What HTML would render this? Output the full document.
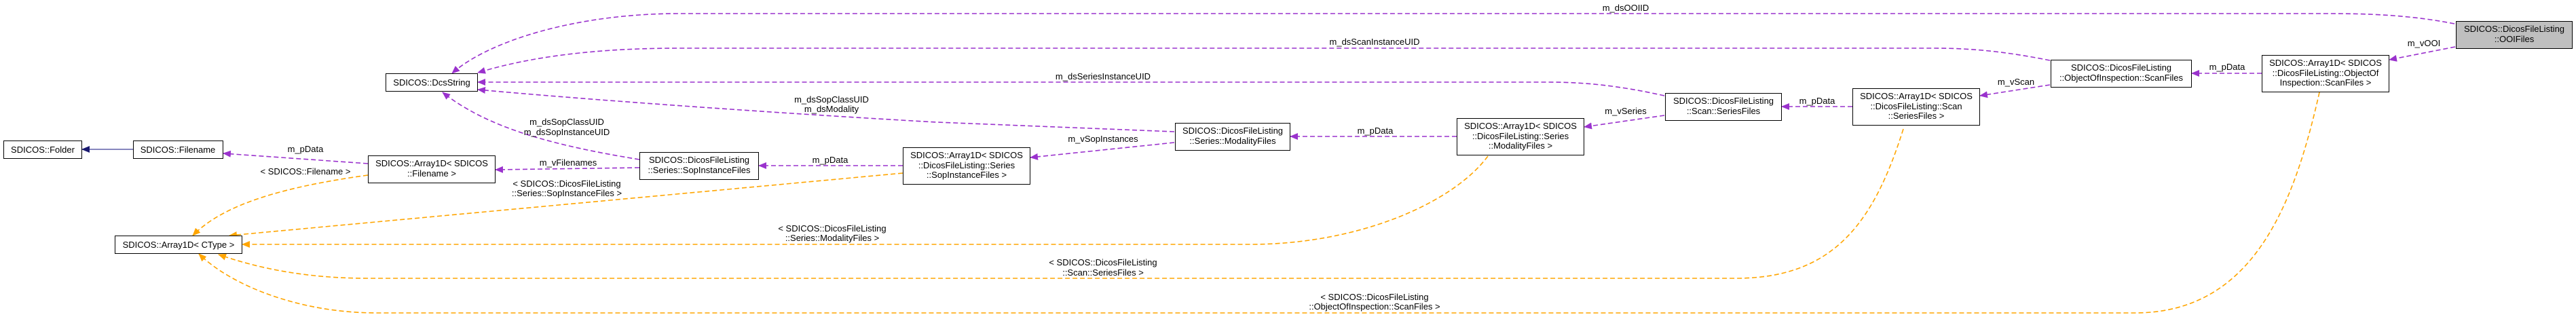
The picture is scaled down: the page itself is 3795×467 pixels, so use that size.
<!DOCTYPE html>
<html><head><meta charset="utf-8">
<style>
html,body{margin:0;padding:0;background:#fff;}
svg{display:block;}
text{font-family:"Liberation Sans",Arial,sans-serif;font-size:13px;fill:#000;}
.b{fill:#fff;stroke:#000;stroke-width:1;}
.p{fill:none;stroke:#9a32cd;stroke-width:1.6;stroke-dasharray:7,4;}
.o{fill:none;stroke:#ffa500;stroke-width:1.6;stroke-dasharray:7,4;}
</style></head>
<body>
<svg width="3795" height="467" viewBox="0 0 3795 467" xmlns="http://www.w3.org/2000/svg">
<defs>
<marker id="ap" markerWidth="12" markerHeight="10" refX="11" refY="5" orient="auto" markerUnits="userSpaceOnUse"><path d="M0,0 L12,5 L0,10 z" fill="#9a32cd"/></marker>
<marker id="ao" markerWidth="12" markerHeight="10" refX="11" refY="5" orient="auto" markerUnits="userSpaceOnUse"><path d="M0,0 L12,5 L0,10 z" fill="#ffa500"/></marker>
<marker id="an" markerWidth="12" markerHeight="10" refX="11" refY="5" orient="auto" markerUnits="userSpaceOnUse"><path d="M0,0 L12,5 L0,10 z" fill="#191970"/></marker>
</defs>

<!-- edges -->
<path class="p" marker-end="url(#ap)" d="M3616,35 C3540,20 3470,20 3420,20 L1000,20 C850,20 720,60 666,108"/>
<text x="2395" y="16" text-anchor="middle">m_dsOOIID</text>

<path class="p" marker-end="url(#ap)" d="M3020,89 C2950,75 2900,71 2850,71 L1000,71 C850,71 760,90 704,107"/>
<text x="2025" y="66" text-anchor="middle">m_dsScanInstanceUID</text>

<path class="p" marker-end="url(#ap)" d="M2452,141 C2380,125 2330,121 2280,121 L704,121"/>
<text x="1625" y="117" text-anchor="middle">m_dsSeriesInstanceUID</text>

<path class="p" marker-end="url(#ap)" d="M1730,194 L1380,180 C1200,170 900,150 704,132"/>
<text x="1225" y="151" text-anchor="middle">m_dsSopClassUID</text>
<text x="1225" y="165" text-anchor="middle">m_dsModality</text>

<path class="p" marker-end="url(#ap)" d="M942,235 C820,215 720,190 652,136"/>
<text x="835" y="184" text-anchor="middle">m_dsSopClassUID</text>
<text x="835" y="199" text-anchor="middle">m_dsSopInstanceUID</text>

<path fill="none" stroke="#5e5ea8" stroke-width="1.6" marker-end="url(#an)" d="M196,220 L121,220"/>

<path class="p" marker-end="url(#ap)" d="M542,241 L329,226"/>
<text x="450" y="224" text-anchor="middle">m_pData</text>

<path class="o" marker-end="url(#ao)" d="M542,258 C420,275 330,300 284,347"/>
<text x="450" y="257" text-anchor="middle">&lt; SDICOS::Filename &gt;</text>

<path class="p" marker-end="url(#ap)" d="M942,247 L730,250"/>
<text x="837" y="244" text-anchor="middle">m_vFilenames</text>

<path class="p" marker-end="url(#ap)" d="M1330,244 L1118,244"/>
<text x="1223" y="240" text-anchor="middle">m_pData</text>

<path class="o" marker-end="url(#ao)" d="M1330,255 L338,347"/>
<text x="835" y="275" text-anchor="middle">&lt; SDICOS::DicosFileListing</text>
<text x="835" y="289" text-anchor="middle">::Series::SopInstanceFiles &gt;</text>

<path class="p" marker-end="url(#ap)" d="M1730,210 L1518,232"/>
<text x="1625" y="209" text-anchor="middle">m_vSopInstances</text>

<path class="p" marker-end="url(#ap)" d="M2146,201 L1901,201"/>
<text x="2026" y="197" text-anchor="middle">m_pData</text>

<path class="o" marker-end="url(#ao)" d="M2192,230 C2140,300 2000,360 1842,360 L357,360"/>
<text x="1226" y="341" text-anchor="middle">&lt; SDICOS::DicosFileListing</text>
<text x="1226" y="355" text-anchor="middle">::Series::ModalityFiles &gt;</text>

<path class="p" marker-end="url(#ap)" d="M2452,170 L2334,187"/>
<text x="2395" y="168" text-anchor="middle">m_vSeries</text>

<path class="p" marker-end="url(#ap)" d="M2729,157 L2625,157"/>
<text x="2677" y="153" text-anchor="middle">m_pData</text>

<path class="o" marker-end="url(#ao)" d="M2804,190 C2760,330 2700,410 2557,410 L542,410 C450,410 380,395 322,375"/>
<text x="1625" y="391" text-anchor="middle">&lt; SDICOS::DicosFileListing</text>
<text x="1625" y="406" text-anchor="middle">::Scan::SeriesFiles &gt;</text>

<path class="p" marker-end="url(#ap)" d="M3020,125 L2917,141"/>
<text x="2970" y="125" text-anchor="middle">m_vScan</text>

<path class="p" marker-end="url(#ap)" d="M3332,108 L3229,108"/>
<text x="3281" y="103" text-anchor="middle">m_pData</text>

<path class="o" marker-end="url(#ao)" d="M3417,136 C3380,300 3320,461 3145,461 L555,461 C440,461 340,420 293,374"/>
<text x="2025" y="442" text-anchor="middle">&lt; SDICOS::DicosFileListing</text>
<text x="2025" y="456" text-anchor="middle">::ObjectOfInspection::ScanFiles &gt;</text>

<path class="p" marker-end="url(#ap)" d="M3617,69 L3520,88"/>
<text x="3571" y="68" text-anchor="middle">m_vOOI</text>

<!-- nodes -->
<rect class="b" x="5.5" y="207.5" width="115" height="26"/>
<text x="63" y="225" text-anchor="middle">SDICOS::Folder</text>

<rect class="b" x="196.5" y="207.5" width="132" height="26"/>
<text x="262" y="225" text-anchor="middle">SDICOS::Filename</text>

<rect class="b" x="568.5" y="108.5" width="135" height="26"/>
<text x="636" y="126" text-anchor="middle">SDICOS::DcsString</text>

<rect class="b" x="542.5" y="229.5" width="187" height="40"/>
<text x="636" y="245" text-anchor="middle">SDICOS::Array1D&lt; SDICOS</text>
<text x="636" y="260" text-anchor="middle">::Filename &gt;</text>

<rect class="b" x="169.5" y="347.5" width="187" height="26"/>
<text x="263" y="365" text-anchor="middle">SDICOS::Array1D&lt; CType &gt;</text>

<rect class="b" x="942.5" y="224.5" width="175" height="40"/>
<text x="1030" y="240" text-anchor="middle">SDICOS::DicosFileListing</text>
<text x="1030" y="255" text-anchor="middle">::Series::SopInstanceFiles</text>

<rect class="b" x="1330.5" y="217.5" width="187" height="54"/>
<text x="1424" y="233" text-anchor="middle">SDICOS::Array1D&lt; SDICOS</text>
<text x="1424" y="248" text-anchor="middle">::DicosFileListing::Series</text>
<text x="1424" y="262" text-anchor="middle">::SopInstanceFiles &gt;</text>

<rect class="b" x="1731.5" y="181.5" width="169" height="40"/>
<text x="1816" y="197" text-anchor="middle">SDICOS::DicosFileListing</text>
<text x="1816" y="212" text-anchor="middle">::Series::ModalityFiles</text>

<rect class="b" x="2146.5" y="174.5" width="187" height="54"/>
<text x="2240" y="190" text-anchor="middle">SDICOS::Array1D&lt; SDICOS</text>
<text x="2240" y="205" text-anchor="middle">::DicosFileListing::Series</text>
<text x="2240" y="219" text-anchor="middle">::ModalityFiles &gt;</text>

<rect class="b" x="2453.5" y="137.5" width="171" height="40"/>
<text x="2539" y="153" text-anchor="middle">SDICOS::DicosFileListing</text>
<text x="2539" y="168" text-anchor="middle">::Scan::SeriesFiles</text>

<rect class="b" x="2729.5" y="130.5" width="187" height="54"/>
<text x="2823" y="146" text-anchor="middle">SDICOS::Array1D&lt; SDICOS</text>
<text x="2823" y="161" text-anchor="middle">::DicosFileListing::Scan</text>
<text x="2823" y="175" text-anchor="middle">::SeriesFiles &gt;</text>

<rect class="b" x="3021.5" y="88.5" width="207" height="40"/>
<text x="3125" y="104" text-anchor="middle">SDICOS::DicosFileListing</text>
<text x="3125" y="119" text-anchor="middle">::ObjectOfInspection::ScanFiles</text>

<rect class="b" x="3332.5" y="81.5" width="187" height="54"/>
<text x="3426" y="97" text-anchor="middle">SDICOS::Array1D&lt; SDICOS</text>
<text x="3426" y="112" text-anchor="middle">::DicosFileListing::ObjectOf</text>
<text x="3426" y="126" text-anchor="middle">Inspection::ScanFiles &gt;</text>

<rect x="3618.5" y="31.5" width="171" height="40" fill="#bfbfbf" stroke="#000"/>
<text x="3704" y="47" text-anchor="middle">SDICOS::DicosFileListing</text>
<text x="3704" y="62" text-anchor="middle">::OOIFiles</text>
</svg>
</body></html>
